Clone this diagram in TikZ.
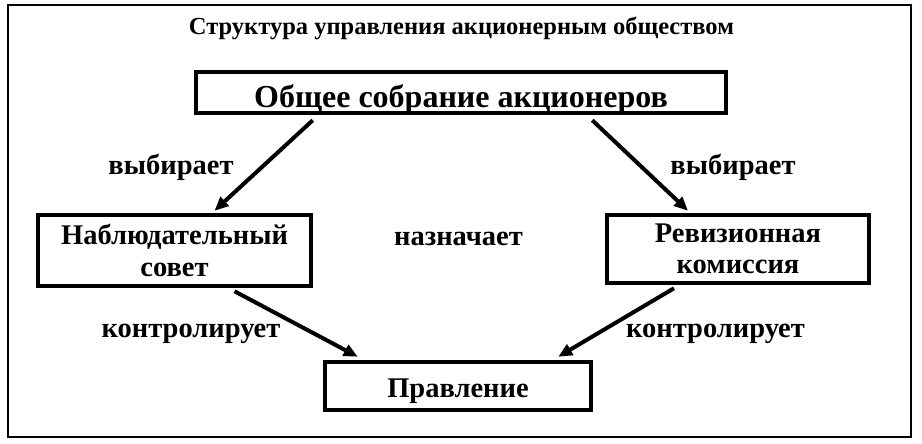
\documentclass[tikz,border=0pt]{standalone}
\usepackage{fontspec}
\setmainfont{Liberation Serif}
\usetikzlibrary{arrows.meta,calc}
\begin{document}
\begin{tikzpicture}[x=1pt,y=-1pt,
  box/.style={draw=black,line width=4.5pt,inner sep=0pt,align=center,font=\bfseries\fontsize{28.5}{31.5}\selectfont},
  lbl/.style={anchor=base,inner sep=0pt,font=\bfseries\fontsize{28.5}{32}\selectfont},
  arr/.style={line width=4pt,-{Triangle[length=14pt,width=12pt]}}]
\useasboundingbox (0,0) rectangle (922,444);
\draw[line width=1.5pt] (8,5) rectangle (911,437);
\node[lbl,font=\bfseries\fontsize{24.5}{28}\selectfont] (title) at (461.5,35) {Структура управления акционерным обществом};
\node[box,minimum width=530pt,minimum height=41pt,text height=29pt,text depth=0pt,font=\bfseries\fontsize{32}{36}\selectfont] (top) at (461,92.5) {Общее собрание акционеров};
\node[box,minimum width=273pt,minimum height=71pt] (nab) at (174.5,250.5) {Наблюдательный\\совет};
\node[box,minimum width=262pt,minimum height=68pt] (rev) at (738,249) {Ревизионная\\комиссия};
\node[box,minimum width=266pt,minimum height=48pt,text height=22pt,text depth=0pt] (prav) at (458,386) {Правление};
\node[lbl] (l1) at (171,175) {выбирает};
\node[lbl] (l2) at (733,175) {выбирает};
\node[lbl] (l3) at (458.5,245) {назначает};
\node[lbl] (l4) at (191,337) {контролирует};
\node[lbl] (l5) at (715.5,337) {контролирует};
\draw[arr] ([xshift=119pt,yshift=-5pt]top.south west) -- ([xshift=40pt,yshift=2pt]nab.north);
\draw[arr] ([xshift=-136pt,yshift=-5pt]top.south east) -- ([xshift=-50pt,yshift=2pt]rev.north);
\draw[arr] ([xshift=60pt,yshift=-3pt]nab.south) -- ([xshift=35pt,yshift=3pt]prav.north west);
\draw[arr] ([xshift=-64pt,yshift=-3pt]rev.south) -- ([xshift=-35pt,yshift=3pt]prav.north east);
\end{tikzpicture}
\end{document}
